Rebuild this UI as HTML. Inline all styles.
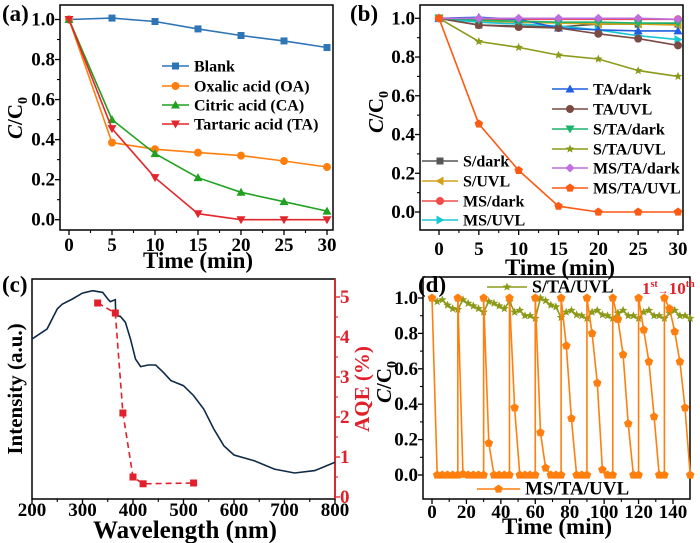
<!DOCTYPE html>
<html><head><meta charset="utf-8"><style>
body{margin:0;background:#fff}
svg{display:block;font-family:"Liberation Serif",serif;font-weight:bold}
</style></head><body>
<svg id="fig" width="700" height="543" viewBox="0 0 700 543" xmlns="http://www.w3.org/2000/svg"></svg>
<script>
// ---- Panel (a) data ----
const aTimes=[0,5,10,15,20,25,30];
const aBlank=[1.0,1.007,0.99,0.953,0.92,0.893,0.86];
const aOA=[1.0,0.385,0.352,0.335,0.32,0.293,0.263];
const aCA=[1.0,0.5,0.33,0.21,0.137,0.09,0.043];
const aTA=[1.0,0.455,0.21,0.03,0,0,0];
const aXTicks=[0,5,10,15,20,25,30];
const aYTicks=[0.0,0.2,0.4,0.6,0.8,1.0];
// ---- Panel (b) data ----
const bTimes=[0,5,10,15,20,25,30];
const bSdark=[1,0.965,0.96,0.955,0.97,0.97,0.97];
const bSUVL=[1,0.985,0.98,0.975,0.97,0.97,0.965];
const bMSdark=[1,0.995,0.995,0.995,0.995,0.995,0.995];
const bMSUVL=[1,0.98,0.97,0.96,0.94,0.91,0.89];
const bTAdark=[1,1.005,0.995,0.95,0.94,0.935,0.935];
const bTAUVL=[1,0.965,0.955,0.95,0.92,0.895,0.86];
const bSTAdark=[1,0.99,0.985,0.98,0.98,0.975,0.975];
const bSTAUVL=[1,0.88,0.85,0.81,0.79,0.73,0.70];
const bMSTAdark=[1,1,1,1,1,1,0.995];
const bMSTAUVL=[1,0.455,0.215,0.03,0,0,0];
// ---- Panel (c) data ----
const cWave=[200,230,250,260,280,300,320,340,350,355,360,365,366,375,385,395,405,415,430,445,460,475,500,520,540,560,580,600,640,680,720,760,800];
const cIntensity=[72.7,77.3,86.4,88.6,90.9,93.6,94.7,93.9,90.9,89.7,90.2,90.6,83.3,83.0,80.3,72.7,63.6,60.2,60.9,60.9,57.6,53.8,51.5,47.0,40.9,31.8,24.2,20.0,17.4,13.6,11.8,12.9,16.7];
const cAQEWave=[330,365,380,400,420,520];
const cAQE=[4.85,4.6,2.1,0.5,0.33,0.35];
const cXTicks=[200,300,400,500,600,700,800];
const cY2Ticks=[0,1,2,3,4,5];
// ---- Panel (d) data ----
const dCycleStarts=[0,15,30,45,60,75,90,105,120,135];
const dOffsets=[0,3,6,9,12,15];
const dCycles=[[1,0,0,0,0,0],[1,0.005,0,0,0,0],[1,0.18,0,0,0,0],[1,0.38,0,0,0,0],[1,0.24,0.04,0,0,0],[1,0.73,0.32,0,0,0],[1,0.8,0.52,0.03,0,0],[1,0.88,0.68,0.29,0,0],[1,0.82,0.64,0.33,0,0],[1,0.94,0.81,0.64,0.38,0]];
const dStarTimes=[0,3,6,9,12,15,18,21,24,27,30,33,36,39,42,45,48,51,54,57,60,63,66,69,72,75,78,81,84,87,90,93,96,99,102,105,108,111,114,117,120,123,126,129,132,135,138,141,144,147,150];
const dStarVals=[1.0,0.98,0.99,0.96,0.94,0.935,0.99,0.97,0.955,0.94,0.92,0.98,0.97,0.955,0.94,0.98,0.92,0.93,0.9,0.9,0.885,1.0,0.985,0.96,0.95,0.89,0.92,0.93,0.905,0.9,0.885,0.92,0.93,0.905,0.9,0.885,0.915,0.93,0.9,0.9,0.885,0.92,0.93,0.9,0.9,0.885,0.915,0.93,0.9,0.9,0.885];
const dXTicks=[0,20,40,60,80,100,120,140];
const dYTicks=[0.0,0.2,0.4,0.6,0.8,1.0];

const NS='http://www.w3.org/2000/svg';
const svg=document.getElementById('fig');
function mk(tag,attrs,parent,text){const e=document.createElementNS(NS,tag);for(const k in attrs)e.setAttribute(k,attrs[k]);if(text!==undefined)e.textContent=text;(parent||svg).appendChild(e);return e;}
function lin(d0,d1,r0,r1){return v=>r0+(v-d0)*(r1-r0)/(d1-d0);}
function marker(g,shape,x,y,col){
  let e;
  if(shape==='sq'){e=mk('rect',{x:x-3.5,y:y-3.5,width:7,height:7,fill:col},g);}
  else if(shape==='ci'){e=mk('circle',{cx:x,cy:y,r:4,fill:col},g);}
  else if(shape==='tu'){e=mk('polygon',{points:`${x},${y-4.5} ${x-4.5},${y+3.5} ${x+4.5},${y+3.5}`,fill:col},g);}
  else if(shape==='td'){e=mk('polygon',{points:`${x},${y+4.5} ${x-4.5},${y-3.5} ${x+4.5},${y-3.5}`,fill:col},g);}
  else if(shape==='tl'){e=mk('polygon',{points:`${x-4.5},${y} ${x+3.5},${y-4.5} ${x+3.5},${y+4.5}`,fill:col},g);}
  else if(shape==='tr'){e=mk('polygon',{points:`${x+4.5},${y} ${x-3.5},${y-4.5} ${x-3.5},${y+4.5}`,fill:col},g);}
  else if(shape==='st'){let p=[];for(let i=0;i<10;i++){const r=i%2?2:4.5,a=-Math.PI/2+i*Math.PI/5;p.push((x+r*Math.cos(a)).toFixed(1)+','+(y+r*Math.sin(a)).toFixed(1));}e=mk('polygon',{points:p.join(' '),fill:col},g);}
  else if(shape==='di'){e=mk('polygon',{points:`${x},${y-4.5} ${x-4.5},${y} ${x},${y+4.5} ${x+4.5},${y}`,fill:col},g);}
  else if(shape==='pe'){let p=[];for(let i=0;i<5;i++){const a=-Math.PI/2+i*2*Math.PI/5;p.push((x+4.5*Math.cos(a)).toFixed(1)+','+(y+4.5*Math.sin(a)).toFixed(1));}e=mk('polygon',{points:p.join(' '),fill:col},g);}
  
  
}
function series(name,xs,ys,sx,sy,col,shape,dash){
  const g=mk('g',{});
  
  
  const pts=xs.map((v,i)=>sx(v).toFixed(1)+','+sy(ys[i]).toFixed(1)).join(' ');
  const l=mk('polyline',{points:pts,fill:'none',stroke:col,'stroke-width':1.6,'stroke-dasharray':dash||'none'},g);
  
  
  if(shape)xs.forEach((v,i)=>marker(g,shape,sx(v),sy(ys[i]),col));
  return g;
}
function box(name,x0,y0,x1,y1){const r=mk('rect',{x:x0,y:y0,width:x1-x0,height:y1-y0,fill:'none',stroke:'#000','stroke-width':1.5});}
function xAxis(name,ticks,sx,yb,ly,fmt,minorStep){
  const g=mk('g',{});
  ticks.forEach((t,i)=>{const x=sx(t);mk('line',{x1:x,y1:yb,x2:x,y2:yb+5,stroke:'#000','stroke-width':1.3},g);
    const tx=mk('text',{x:x,y:ly,'text-anchor':'middle','font-size':19},g,fmt(t));
    if(i<ticks.length-1){const xm=sx(t+minorStep);mk('line',{x1:xm,y1:yb,x2:xm,y2:yb+3,stroke:'#000','stroke-width':1.1},g);}});
}
function yAxis(name,ticks,sy,xl,lx,fmt,minorStep,col,right){
  const g=mk('g',{});
  const d=right?1:-1;
  ticks.forEach((t,i)=>{const y=sy(t);mk('line',{x1:xl,y1:y,x2:xl+5*d,y2:y,stroke:col,'stroke-width':1.3},g);
    const tx=mk('text',{x:lx,y:y+6,'text-anchor':right?'start':'end','font-size':19,fill:col},g,fmt(t));
    if(i<ticks.length-1){const ym=sy(t+minorStep);mk('line',{x1:xl,y1:ym,x2:xl+3*d,y2:ym,stroke:col,'stroke-width':1.1},g);}});
}
function txt(name,x,y,s,size,extra){const t=mk('text',Object.assign({x:x,y:y,'font-size':size},extra||{}),svg);t.innerHTML=s;return t;}
function legend(name,x,y,col,shape,label,len,fs){
  const g=mk('g',{});
  mk('line',{x1:x,y1:y,x2:x+len,y2:y,stroke:col,'stroke-width':1.6},g);
  marker(g,shape,x+len/2,y,col);
  mk('text',{x:x+len+5,y:y+5.5,'font-size':fs||16},g,label);
}
function cc0(name,x,y){txt(name,x,y,'<tspan font-style="italic">C</tspan>/C<tspan font-size="14" dy="5">0</tspan>',21,{transform:`rotate(-90 ${x} ${y})`,'text-anchor':'middle'});}

// ===== Panel (a) =====
{const sx=lin(0,30,69,327),sy=lin(0,1,219.7,19.5);
box('panel-a-frame',60,5,333,230);
xAxis('panel-a-x-axis',aXTicks,sx,230,251,t=>t,2.5);
yAxis('panel-a-y-axis',aYTicks,sy,60,55,t=>t.toFixed(1),0.1,'#000',false);
series('blank-series',aTimes,aBlank,sx,sy,'#2e75b6','sq');
series('oa-series',aTimes,aOA,sx,sy,'#ff7f0e','ci');
series('ca-series',aTimes,aCA,sx,sy,'#21a121','tu');
series('ta-series',aTimes,aTA,sx,sy,'#e3262b','td');
legend('legend-blank',162,66,'#2e75b6','sq','Blank',27);
legend('legend-oa',162,86,'#ff7f0e','ci','Oxalic acid (OA)',27);
legend('legend-ca',162,105,'#21a121','tu','Citric acid (CA)',27);
legend('legend-ta',162,124,'#e3262b','td','Tartaric acid (TA)',27);
cc0('panel-a-y-title',22,118);
txt('panel-a-x-title',198,268,'Time (min)',23,{'text-anchor':'middle'});
txt('panel-a-label',2,21,'(a)',23);}

// ===== Panel (b) =====
{const sx=lin(0,30,439,678),sy=lin(0,1,212,18.3);
box('panel-b-frame',420,5,683,230);
xAxis('panel-b-x-axis',aXTicks,sx,230,255,t=>t,2.5);
yAxis('panel-b-y-axis',aYTicks,sy,420,415,t=>t.toFixed(1),0.1,'#000',false);
series('s-dark-series',bTimes,bSdark,sx,sy,'#555555','sq');
series('s-uvl-series',bTimes,bSUVL,sx,sy,'#d4a017','tl');
series('ms-dark-series',bTimes,bMSdark,sx,sy,'#f04b4b','ci');
series('ms-uvl-series',bTimes,bMSUVL,sx,sy,'#18c7d3','tr');
series('ta-dark-series',bTimes,bTAdark,sx,sy,'#1f5fe0','tu');
series('ta-uvl-series',bTimes,bTAUVL,sx,sy,'#7a4a44','ci');
series('s-ta-dark-series',bTimes,bSTAdark,sx,sy,'#1db36b','td');
series('s-ta-uvl-series',bTimes,bSTAUVL,sx,sy,'#8c9a1a','st');
series('ms-ta-dark-series',bTimes,bMSTAdark,sx,sy,'#c06de0','di');
series('ms-ta-uvl-series',bTimes,bMSTAUVL,sx,sy,'#ff5a14','pe');
legend('legend-ta-dark',552,89,'#1f5fe0','tu','TA/dark',36);
legend('legend-ta-uvl',552,109,'#7a4a44','ci','TA/UVL',36);
legend('legend-s-ta-dark',552,129,'#1db36b','td','S/TA/dark',36);
legend('legend-s-ta-uvl',552,149,'#8c9a1a','st','S/TA/UVL',36);
legend('legend-ms-ta-dark',552,168,'#c06de0','di','MS/TA/dark',36);
legend('legend-ms-ta-uvl',552,188,'#ff5a14','pe','MS/TA/UVL',36);
legend('legend-s-dark',422,161,'#555555','sq','S/dark',36);
legend('legend-s-uvl',422,181,'#d4a017','tl','S/UVL',36);
legend('legend-ms-dark',422,201,'#f04b4b','ci','MS/dark',36);
legend('legend-ms-uvl',422,220,'#18c7d3','tr','MS/UVL',36);
cc0('panel-b-y-title',383,112);
txt('panel-b-x-title',560,275,'Time (min)',23,{'text-anchor':'middle'});
txt('panel-b-label',350,21,'(b)',23);}

// ===== Panel (c) =====
{const sx=lin(200,800,32,335),sy=lin(0,100,499,279),sy2=lin(0,5,497,297);
box('panel-c-frame',32,279,335,499);
const ra=mk('line',{x1:335,y1:279,x2:335,y2:499,stroke:'#e0202a','stroke-width':1.8});
xAxis('panel-c-x-axis',cXTicks,sx,499,516,t=>t,50);
yAxis('panel-c-y2-axis',cY2Ticks,sy2,335,340,t=>t,0.5,'#e0202a',true);
series('intensity-curve',cWave,cIntensity,sx,sy,'#0f2a45',null);
series('aqe-series',cAQEWave,cAQE,sx,sy2,'#e0202a','sq','6,4');
txt('panel-c-y-title',22,389,'Intensity (a.u.)',21,{transform:'rotate(-90 22 389)','text-anchor':'middle'});
txt('panel-c-y2-title',369,389,'AQE (%)',21,{transform:'rotate(-90 369 389)','text-anchor':'middle',fill:'#e0202a'});
txt('panel-c-x-title',185,538,'Wavelength (nm)',25,{'text-anchor':'middle'});
txt('panel-c-label',2,292,'(c)',23);}

// ===== Panel (d) =====
{const sx=lin(0,140,432,673),sy=lin(0,1,475,298);
box('panel-d-frame',423,277,690,499);
xAxis('panel-d-x-axis',dXTicks,sx,499,518,t=>t,10);
yAxis('panel-d-y-axis',dYTicks,sy,423,418,t=>t.toFixed(1),0.1,'#000',false);
series('s-ta-uvl-cycles',dStarTimes,dStarVals,sx,sy,'#8c9a1a','st');
dCycleStarts.forEach((s,k)=>{series('ms-ta-uvl-cycle-'+(k+1),dOffsets.map(o=>s+o),dCycles[k],sx,sy,'#ff7f0e','pe');});
// connecting vertical segments handled by separate cycles: draw rising edges
dCycleStarts.slice(1).forEach(s=>{const e=mk('line',{x1:sx(s),y1:sy(0),x2:sx(s),y2:sy(1),stroke:'#ff7f0e','stroke-width':1.6});});
legend('legend-d-s-ta-uvl',487,287,'#8c9a1a','st','S/TA/UVL',40,18);
legend('legend-d-ms-ta-uvl',477,489,'#ff7f0e','pe','MS/TA/UVL',43,19);
txt('cycle-annotation',642,294,'1<tspan font-size="10" dy="-7">st</tspan><tspan font-size="11" dy="7">→</tspan>10<tspan font-size="10" dy="-7">th</tspan>',17,{fill:'#e0202a'});
cc0('panel-d-y-title',391,382);
txt('panel-d-x-title',557,534,'Time (min)',23,{'text-anchor':'middle'});
txt('panel-d-label',418,292,'(d)',23);}
</script>
</body></html>
